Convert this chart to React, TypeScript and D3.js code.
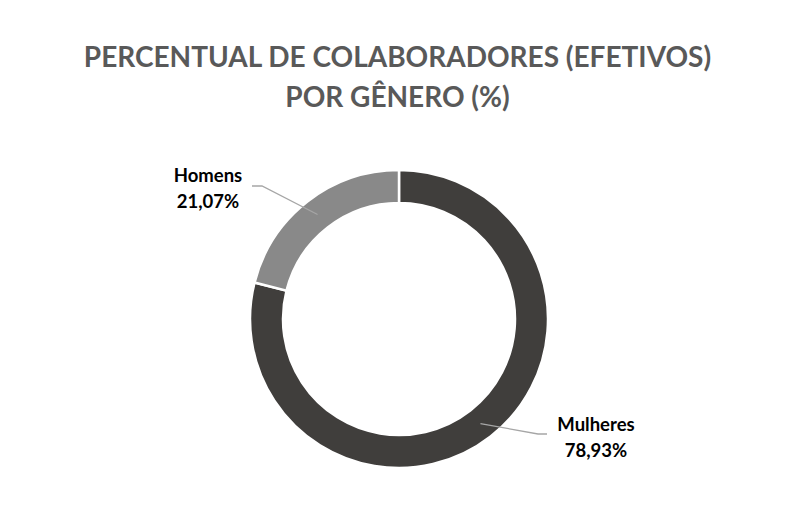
import * as d3 from "d3";

const categories = ["Mulheres", "Homens"];
const values = [78.93, 21.07];
const valueLabels = ["78,93%", "21,07%"];
const colors = ["#403e3c", "#898989"];
const titleLines = ["PERCENTUAL DE COLABORADORES (EFETIVOS)", "POR GÊNERO (%)"];

const W = 794;
const H = 512;
const cx = 399;
const cy = 319;
const outerR = 149;
const innerR = 116;

// label placement (text centre, first baseline) and the elbow of the leader line
const labelPos = [
  { x: 596, y: 431, elbow: [538, 434], end: [547, 434] },
  { x: 208, y: 182, elbow: [262, 186], end: [252, 186] },
];

export default function App() {
  const pie = d3
    .pie<number>()
    .sort(null)
    .value((d) => d);
  const arcs = pie(values);
  const arc = d3.arc<d3.PieArcDatum<number>>().innerRadius(innerR).outerRadius(outerR);

  return (
    <svg
      width={W}
      height={H}
      style={{ position: "absolute", left: 0, top: 0, background: "#fff" }}
      fontFamily="Lato, 'Open Sans', sans-serif"
    >
      {titleLines.map((t, i) => (
        <text
          key={i}
          x={W / 2 + 0.5}
          y={67 + i * 40}
          textAnchor="middle"
          fontSize={28}
          fontWeight="bold"
          fill="#595959"
        >
          {t}
        </text>
      ))}

      <g transform={`translate(${cx},${cy})`}>
        {arcs.map((a, i) => (
          <path key={i} d={arc(a) ?? ""} fill={colors[i]} stroke="#fff" strokeWidth={2.5} />
        ))}
      </g>

      {arcs.map((a, i) => {
        const [px, py] = arc.centroid(a);
        const p = labelPos[i];
        return (
          <g key={i}>
            <polyline
              points={`${cx + px},${cy + py} ${p.elbow[0]},${p.elbow[1]} ${p.end[0]},${p.end[1]}`}
              fill="none"
              stroke="#a6a6a6"
              strokeWidth={1.3}
            />
            <text x={p.x} y={p.y} textAnchor="middle" fontSize={18.5} fontWeight="bold" fill="#000">
              {categories[i]}
            </text>
            <text x={p.x} y={p.y + 26} textAnchor="middle" fontSize={18.5} fontWeight="bold" fill="#000">
              {valueLabels[i]}
            </text>
          </g>
        );
      })}
    </svg>
  );
}
